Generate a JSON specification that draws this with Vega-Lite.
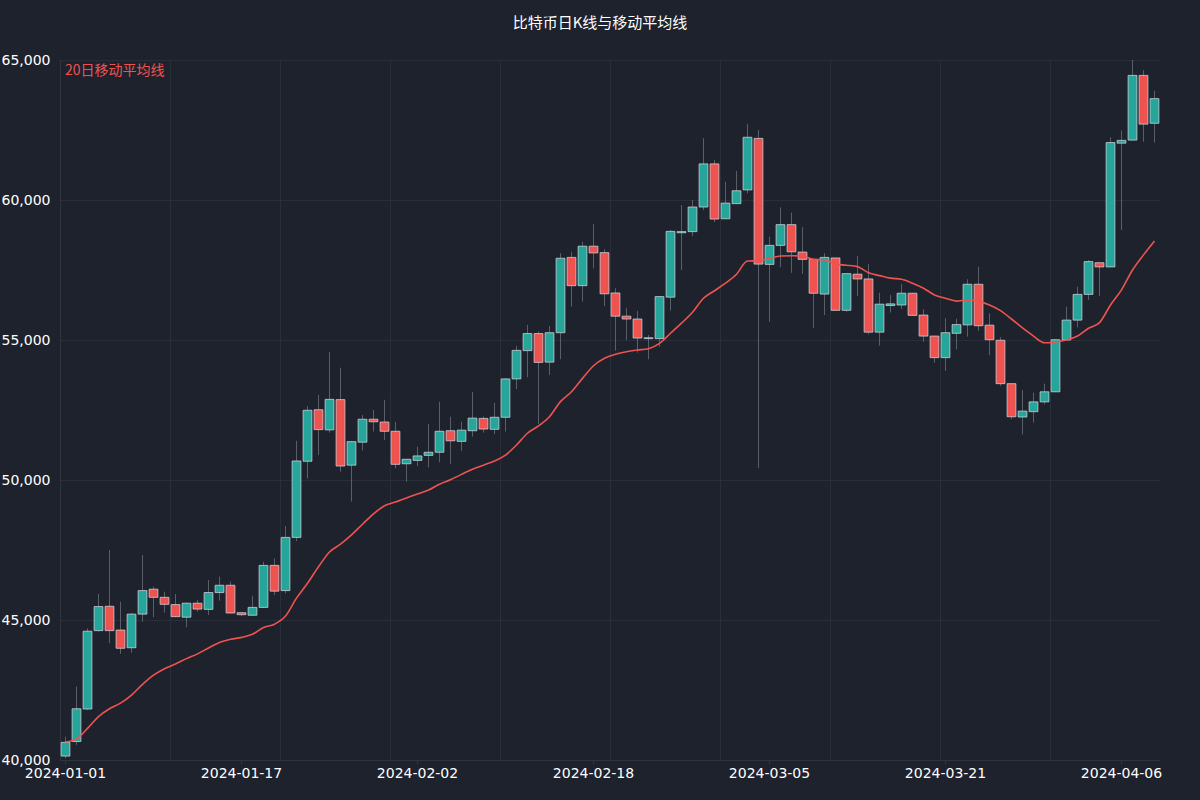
{
  "$schema": "https://vega.github.io/schema/vega-lite/v6.json",
  "description": "Daily candlestick chart with a 20-day moving average, dark theme.",
  "width": 1100,
  "height": 700,
  "autosize": {"type": "none"},
  "padding": {"left": 60, "top": 60, "right": 40, "bottom": 40},
  "background": "#1e222d",
  "config": {
    "view": {"stroke": null},
    "font": "DejaVu Sans",
    "axis": {
      "labelColor": "#ffffff",
      "labelFontSize": 14,
      "gridColor": "#2a2e39",
      "domainColor": "#30343f",
      "tickColor": "#30343f",
      "title": null
    },
    "axisY": {"labelExpr": "format(datum.value, ',')"}
  },
  "title": {
    "text": "比特币日K线与移动平均线",
    "font": "Noto Sans CJK SC",
    "color": "#ffffff",
    "fontSize": 15,
    "fontWeight": "normal",
    "anchor": "middle",
    "frame": "group",
    "dx": -10,
    "offset": 22
  },
  "data": {
    "values": [
      {"date": "2024-01-01", "open": 40140, "high": 40830, "low": 40060, "close": 40630, "ma": 40640},
      {"date": "2024-01-02", "open": 40660, "high": 42620, "low": 40540, "close": 41830, "ma": 40750},
      {"date": "2024-01-03", "open": 41820, "high": 44700, "low": 41790, "close": 44600, "ma": 41130},
      {"date": "2024-01-04", "open": 44620, "high": 45930, "low": 44590, "close": 45480, "ma": 41550},
      {"date": "2024-01-05", "open": 45490, "high": 47500, "low": 44170, "close": 44620, "ma": 41830},
      {"date": "2024-01-06", "open": 44640, "high": 45650, "low": 43790, "close": 43990, "ma": 42030},
      {"date": "2024-01-07", "open": 44010, "high": 45250, "low": 43830, "close": 45210, "ma": 42320},
      {"date": "2024-01-08", "open": 45210, "high": 47320, "low": 44940, "close": 46050, "ma": 42700},
      {"date": "2024-01-09", "open": 46100, "high": 46190, "low": 45100, "close": 45810, "ma": 43030},
      {"date": "2024-01-10", "open": 45810, "high": 46010, "low": 45260, "close": 45560, "ma": 43260},
      {"date": "2024-01-11", "open": 45550, "high": 45930, "low": 45100, "close": 45120, "ma": 43430},
      {"date": "2024-01-12", "open": 45100, "high": 45620, "low": 44740, "close": 45600, "ma": 43620},
      {"date": "2024-01-13", "open": 45600, "high": 45710, "low": 45300, "close": 45390, "ma": 43790},
      {"date": "2024-01-14", "open": 45380, "high": 46430, "low": 45180, "close": 45980, "ma": 44000},
      {"date": "2024-01-15", "open": 45980, "high": 46550, "low": 45690, "close": 46240, "ma": 44200},
      {"date": "2024-01-16", "open": 46240, "high": 46370, "low": 45240, "close": 45250, "ma": 44310},
      {"date": "2024-01-17", "open": 45260, "high": 45280, "low": 45140, "close": 45190, "ma": 44380},
      {"date": "2024-01-18", "open": 45170, "high": 45860, "low": 45160, "close": 45450, "ma": 44490},
      {"date": "2024-01-19", "open": 45450, "high": 47080, "low": 45440, "close": 46950, "ma": 44730},
      {"date": "2024-01-20", "open": 46950, "high": 47200, "low": 45890, "close": 46030, "ma": 44850},
      {"date": "2024-01-21", "open": 46050, "high": 48360, "low": 45950, "close": 47950, "ma": 45140},
      {"date": "2024-01-22", "open": 47950, "high": 51400, "low": 47820, "close": 50680, "ma": 45780},
      {"date": "2024-01-23", "open": 50670, "high": 52640, "low": 50050, "close": 52490, "ma": 46310},
      {"date": "2024-01-24", "open": 52510, "high": 53040, "low": 50890, "close": 51800, "ma": 46900},
      {"date": "2024-01-25", "open": 51790, "high": 54580, "low": 51690, "close": 52880, "ma": 47430},
      {"date": "2024-01-26", "open": 52870, "high": 54010, "low": 50300, "close": 50500, "ma": 47710},
      {"date": "2024-01-27", "open": 50530, "high": 51390, "low": 49230, "close": 51370, "ma": 48040},
      {"date": "2024-01-28", "open": 51350, "high": 52320, "low": 51050, "close": 52170, "ma": 48420},
      {"date": "2024-01-29", "open": 52170, "high": 52500, "low": 51730, "close": 52080, "ma": 48790},
      {"date": "2024-01-30", "open": 52070, "high": 52860, "low": 51430, "close": 51740, "ma": 49080},
      {"date": "2024-01-31", "open": 51740, "high": 52080, "low": 50420, "close": 50560, "ma": 49210},
      {"date": "2024-02-01", "open": 50580, "high": 50750, "low": 49940, "close": 50740, "ma": 49360},
      {"date": "2024-02-02", "open": 50700, "high": 51190, "low": 50500, "close": 50860, "ma": 49500},
      {"date": "2024-02-03", "open": 50880, "high": 52000, "low": 50450, "close": 50990, "ma": 49640},
      {"date": "2024-02-04", "open": 50990, "high": 52790, "low": 50640, "close": 51740, "ma": 49850},
      {"date": "2024-02-05", "open": 51760, "high": 52260, "low": 50570, "close": 51400, "ma": 50010},
      {"date": "2024-02-06", "open": 51380, "high": 52080, "low": 51040, "close": 51780, "ma": 50200},
      {"date": "2024-02-07", "open": 51760, "high": 53150, "low": 51550, "close": 52210, "ma": 50380},
      {"date": "2024-02-08", "open": 52200, "high": 52270, "low": 51690, "close": 51820, "ma": 50530},
      {"date": "2024-02-09", "open": 51810, "high": 52760, "low": 51640, "close": 52240, "ma": 50680},
      {"date": "2024-02-10", "open": 52240, "high": 53640, "low": 51730, "close": 53610, "ma": 50890},
      {"date": "2024-02-11", "open": 53610, "high": 54790, "low": 53250, "close": 54630, "ma": 51250},
      {"date": "2024-02-12", "open": 54620, "high": 55540, "low": 53670, "close": 55230, "ma": 51670},
      {"date": "2024-02-13", "open": 55230, "high": 55300, "low": 52000, "close": 54200, "ma": 51930},
      {"date": "2024-02-14", "open": 54210, "high": 55500, "low": 53750, "close": 55260, "ma": 52260},
      {"date": "2024-02-15", "open": 55260, "high": 58100, "low": 54310, "close": 57920, "ma": 52800},
      {"date": "2024-02-16", "open": 57950, "high": 58150, "low": 56190, "close": 56940, "ma": 53150},
      {"date": "2024-02-17", "open": 56940, "high": 58510, "low": 56370, "close": 58350, "ma": 53630},
      {"date": "2024-02-18", "open": 58350, "high": 59140, "low": 57560, "close": 58110, "ma": 54080},
      {"date": "2024-02-19", "open": 58120, "high": 58240, "low": 56210, "close": 56650, "ma": 54350},
      {"date": "2024-02-20", "open": 56680, "high": 56850, "low": 54620, "close": 55850, "ma": 54490},
      {"date": "2024-02-21", "open": 55850, "high": 56150, "low": 55000, "close": 55750, "ma": 54580},
      {"date": "2024-02-22", "open": 55750, "high": 56040, "low": 54550, "close": 55070, "ma": 54640},
      {"date": "2024-02-23", "open": 55050, "high": 55180, "low": 54310, "close": 55080, "ma": 54690},
      {"date": "2024-02-24", "open": 55050, "high": 56560, "low": 54760, "close": 56550, "ma": 54880},
      {"date": "2024-02-25", "open": 56530, "high": 58930, "low": 56050, "close": 58880, "ma": 55240},
      {"date": "2024-02-26", "open": 58830, "high": 59820, "low": 57500, "close": 58870, "ma": 55600},
      {"date": "2024-02-27", "open": 58870, "high": 60000, "low": 58710, "close": 59750, "ma": 55990},
      {"date": "2024-02-28", "open": 59750, "high": 62210, "low": 59640, "close": 61290, "ma": 56490},
      {"date": "2024-02-29", "open": 61290, "high": 61430, "low": 59210, "close": 59320, "ma": 56760},
      {"date": "2024-03-01", "open": 59330, "high": 60650, "low": 59320, "close": 59890, "ma": 57030},
      {"date": "2024-03-02", "open": 59870, "high": 61040, "low": 59860, "close": 60330, "ma": 57350},
      {"date": "2024-03-03", "open": 60360, "high": 62710, "low": 60240, "close": 62240, "ma": 57820},
      {"date": "2024-03-04", "open": 62200, "high": 62500, "low": 50430, "close": 57710, "ma": 57830},
      {"date": "2024-03-05", "open": 57700, "high": 58690, "low": 55650, "close": 58380, "ma": 57920},
      {"date": "2024-03-06", "open": 58380, "high": 59740, "low": 57600, "close": 59120, "ma": 58000},
      {"date": "2024-03-07", "open": 59120, "high": 59550, "low": 57400, "close": 58150, "ma": 58010},
      {"date": "2024-03-08", "open": 58140, "high": 59030, "low": 57360, "close": 57880, "ma": 58000},
      {"date": "2024-03-09", "open": 57880, "high": 57890, "low": 55420, "close": 56670, "ma": 57880},
      {"date": "2024-03-10", "open": 56640, "high": 58100, "low": 55890, "close": 57950, "ma": 57860},
      {"date": "2024-03-11", "open": 57930, "high": 57940, "low": 56040, "close": 56060, "ma": 57710},
      {"date": "2024-03-12", "open": 56060, "high": 57380, "low": 56010, "close": 57370, "ma": 57670},
      {"date": "2024-03-13", "open": 57350, "high": 58000, "low": 56570, "close": 57180, "ma": 57620},
      {"date": "2024-03-14", "open": 57180, "high": 57710, "low": 55200, "close": 55280, "ma": 57400},
      {"date": "2024-03-15", "open": 55280, "high": 56690, "low": 54800, "close": 56280, "ma": 57300},
      {"date": "2024-03-16", "open": 56230, "high": 56610, "low": 55980, "close": 56290, "ma": 57210},
      {"date": "2024-03-17", "open": 56250, "high": 57000, "low": 56100, "close": 56670, "ma": 57170},
      {"date": "2024-03-18", "open": 56670, "high": 56680, "low": 55870, "close": 55880, "ma": 57030},
      {"date": "2024-03-19", "open": 55890, "high": 56100, "low": 54940, "close": 55140, "ma": 56850},
      {"date": "2024-03-20", "open": 55140, "high": 55150, "low": 54190, "close": 54370, "ma": 56610},
      {"date": "2024-03-21", "open": 54370, "high": 55780, "low": 53900, "close": 55260, "ma": 56490},
      {"date": "2024-03-22", "open": 55240, "high": 55760, "low": 54670, "close": 55550, "ma": 56390},
      {"date": "2024-03-23", "open": 55540, "high": 57170, "low": 55120, "close": 56990, "ma": 56430},
      {"date": "2024-03-24", "open": 56990, "high": 57620, "low": 55330, "close": 55510, "ma": 56380},
      {"date": "2024-03-25", "open": 55530, "high": 55950, "low": 54460, "close": 55010, "ma": 56250},
      {"date": "2024-03-26", "open": 54990, "high": 55100, "low": 53360, "close": 53440, "ma": 56050},
      {"date": "2024-03-27", "open": 53440, "high": 53450, "low": 52170, "close": 52260, "ma": 55750},
      {"date": "2024-03-28", "open": 52250, "high": 53210, "low": 51630, "close": 52460, "ma": 55430},
      {"date": "2024-03-29", "open": 52440, "high": 53120, "low": 52050, "close": 52790, "ma": 55140},
      {"date": "2024-03-30", "open": 52790, "high": 53440, "low": 52700, "close": 53150, "ma": 54900},
      {"date": "2024-03-31", "open": 53150, "high": 55020, "low": 53140, "close": 55010, "ma": 54930},
      {"date": "2024-04-01", "open": 55000, "high": 56190, "low": 54990, "close": 55710, "ma": 55000},
      {"date": "2024-04-02", "open": 55710, "high": 56900, "low": 55450, "close": 56630, "ma": 55140},
      {"date": "2024-04-03", "open": 56630, "high": 57860, "low": 56430, "close": 57800, "ma": 55420},
      {"date": "2024-04-04", "open": 57760, "high": 57770, "low": 56570, "close": 57610, "ma": 55620},
      {"date": "2024-04-05", "open": 57610, "high": 62240, "low": 57600, "close": 62050, "ma": 56250},
      {"date": "2024-04-06", "open": 62030, "high": 62480, "low": 58930, "close": 62130, "ma": 56790},
      {"date": "2024-04-07", "open": 62140, "high": 65000, "low": 62130, "close": 64450, "ma": 57500},
      {"date": "2024-04-08", "open": 64450, "high": 64640, "low": 62080, "close": 62710, "ma": 58040},
      {"date": "2024-04-09", "open": 62740, "high": 63900, "low": 62050, "close": 63620, "ma": 58540}
    ]
  },
  "layer": [
    {
      "mark": {"type": "rule", "color": "#8b8f9a", "strokeWidth": 1, "opacity": 0.55},
      "encoding": {
        "x": {
          "field": "date",
          "type": "ordinal",
          "scale": {"paddingInner": 0.2, "paddingOuter": 0.1},
          "axis": {
            "orient": "bottom",
            "values": ["2024-01-01", "2024-01-11", "2024-01-21", "2024-01-31", "2024-02-10", "2024-02-20", "2024-03-01", "2024-03-11", "2024-03-21", "2024-03-31"],
            "grid": true,
            "labels": false,
            "ticks": false,
            "domain": true,
            "bandPosition": -0.125
          }
        },
        "y": {
          "field": "low",
          "type": "quantitative",
          "scale": {"domain": [40000, 65000], "nice": false, "zero": false},
          "axis": {
            "values": [40000, 45000, 50000, 55000, 60000, 65000],
            "grid": true,
            "ticks": false,
            "labelPadding": 10
          }
        },
        "y2": {"field": "high"}
      }
    },
    {
      "mark": {"type": "bar", "stroke": "#d1d4dc", "strokeOpacity": 0.75, "strokeWidth": 1},
      "encoding": {
        "x": {
          "field": "date",
          "type": "ordinal",
          "axis": {
            "orient": "bottom",
            "values": ["2024-01-01", "2024-01-17", "2024-02-02", "2024-02-18", "2024-03-05", "2024-03-21", "2024-04-06"],
            "grid": false,
            "domain": false,
            "tickSize": 4,
            "labelPadding": 2,
            "labelAngle": 0
          }
        },
        "y": {"field": "open", "type": "quantitative"},
        "y2": {"field": "close"},
        "color": {
          "condition": {"test": "datum.close >= datum.open", "value": "#26a69a"},
          "value": "#ef5350"
        }
      }
    },
    {
      "mark": {"type": "line", "strokeWidth": 1.6, "interpolate": "monotone"},
      "encoding": {
        "x": {"field": "date", "type": "ordinal", "axis": null},
        "y": {"field": "ma", "type": "quantitative"},
        "color": {
          "datum": "20日移动平均线",
          "scale": {"range": ["#ef5350"]},
          "legend": {
            "orient": "top-left",
            "offset": 4,
            "title": null,
            "padding": 0,
            "symbolSize": 0,
            "symbolStrokeWidth": 0,
            "symbolOpacity": 0,
            "labelOffset": -13,
            "labelColor": "#ef5350",
            "labelFontSize": 14,
            "labelFont": "Noto Sans CJK SC"
          }
        }
      }
    }
  ],
  "resolve": {"axis": {"x": "independent"}}
}
